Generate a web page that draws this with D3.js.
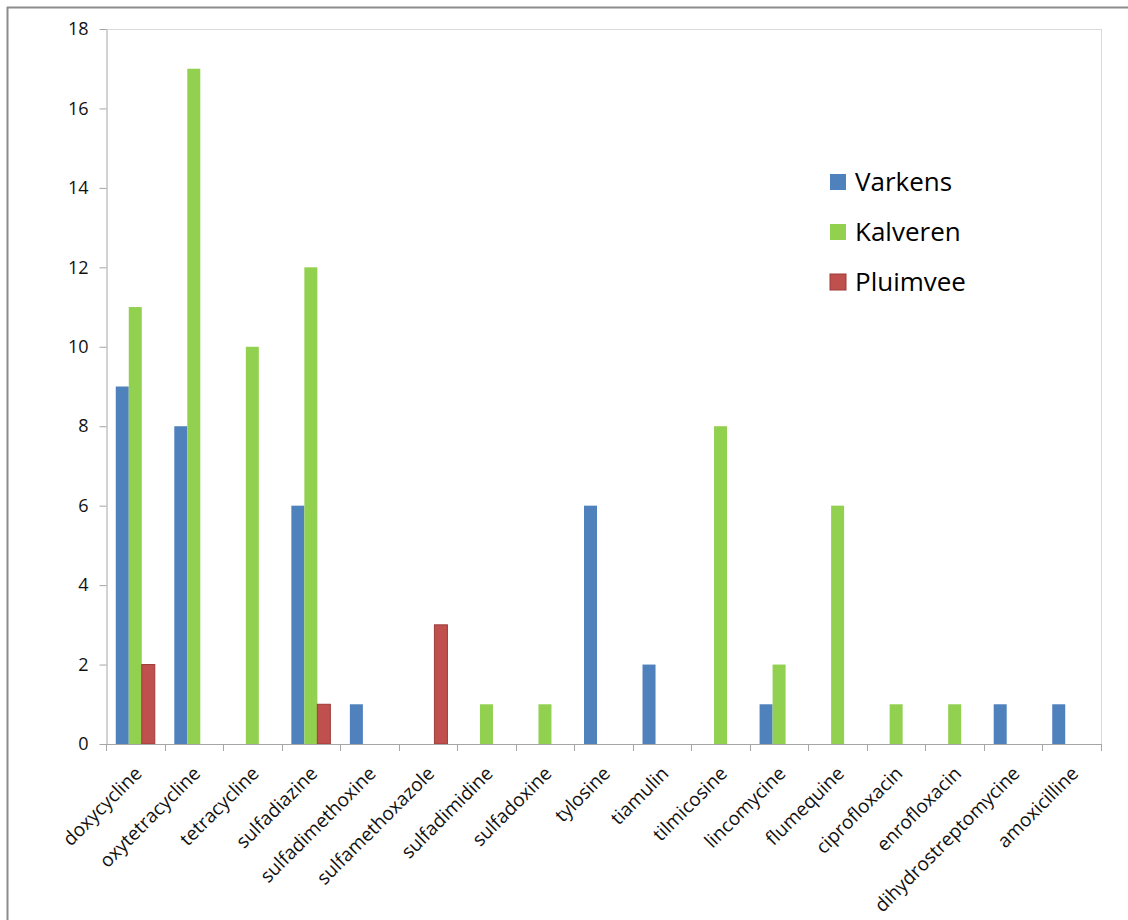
<!DOCTYPE html>
<html><head><meta charset="utf-8">
<script src="https://cdn.jsdelivr.net/npm/d3@7"></script>
<style>body{margin:0;background:#fff}svg{display:block}</style>
</head><body>
<svg id="c" width="1128" height="920"></svg>
<script>
const categories = ["doxycycline","oxytetracycline","tetracycline","sulfadiazine","sulfadimethoxine","sulfamethoxazole","sulfadimidine","sulfadoxine","tylosine","tiamulin","tilmicosine","lincomycine","flumequine","ciprofloxacin","enrofloxacin","dihydrostreptomycine","amoxicilline"];
const seriesNames = ["Varkens","Kalveren","Pluimvee"];
const varkens  = [9,8,0,6,1,0,0,0,6,2,0,1,0,0,0,1,1];
const kalveren = [11,17,10,12,0,0,1,1,0,0,8,2,6,1,1,0,0];
const pluimvee = [2,0,0,1,0,3,0,0,0,0,0,0,0,0,0,0,0];
const yTicks = [0,2,4,6,8,10,12,14,16,18];
const colors = ["#4f81bd","#92d050","#c0504d"];
const strokes = ["none","none","#9c3b39"];

const series = [varkens, kalveren, pluimvee];
const svg = d3.select("#c");
const font = "'Open Sans', sans-serif";
const L = 106, R = 1101, T = 29, B = 744;

// outer frame (top and left)
svg.append("line").attr("x1",7).attr("x2",1128).attr("y1",7.5).attr("y2",7.5).attr("stroke","#8c8c8c").attr("stroke-width",2);
svg.append("line").attr("x1",7.5).attr("x2",7.5).attr("y1",7).attr("y2",920).attr("stroke","#8c8c8c").attr("stroke-width",2);

const x = d3.scaleBand().domain(categories).range([L,R]).paddingInner(0).paddingOuter(0);
const cw = x.bandwidth();
const y = d3.scaleLinear().domain([0,18]).range([B,T]);

// plot border top/right
svg.append("line").attr("x1",L).attr("x2",R+0.5).attr("y1",T+0.5).attr("y2",T+0.5).attr("stroke","#d9d9d9");
svg.append("line").attr("x1",R+0.5).attr("x2",R+0.5).attr("y1",T).attr("y2",B).attr("stroke","#d9d9d9");

// bars (gap width 150%)
const bw = cw/(3+1.5);
series.forEach((vals,si)=>{
  svg.append("g").selectAll("rect").data(categories.map((c,i)=>({c,v:vals[i]})).filter(d=>d.v>0))
    .join("rect")
    .attr("x",d=>x(d.c)+bw*0.75+bw*si)
    .attr("width",bw)
    .attr("y",d=>y(d.v))
    .attr("height",d=>B-y(d.v))
    .attr("fill",colors[si])
    .attr("stroke",strokes[si]).attr("stroke-width",1);
});

// y axis
const ya = d3.axisLeft(y).tickValues(yTicks).tickSize(7).tickSizeOuter(0).tickPadding(11);
const gy = svg.append("g").attr("transform",`translate(${L+0.5},0)`).call(ya);
gy.select(".domain").attr("stroke","#a6a6a6");
gy.selectAll(".tick line").attr("stroke","#a6a6a6");
gy.selectAll("text").attr("font-family",font).attr("font-size",18).attr("fill","#111");

// x axis
const bounds = categories.map(c=>x(c)).concat([R]);
svg.append("line").attr("x1",L).attr("x2",R+0.5).attr("y1",B+0.5).attr("y2",B+0.5).attr("stroke","#a6a6a6");
svg.append("g").selectAll("line").data(bounds).join("line")
  .attr("x1",d=>Math.round(d)+0.5).attr("x2",d=>Math.round(d)+0.5)
  .attr("y1",B).attr("y2",B+7).attr("stroke","#a6a6a6");
svg.append("g").selectAll("text").data(categories).join("text")
  .attr("transform",d=>`translate(${x(d)+cw/2+3},${B+26}) rotate(-45)`)
  .attr("text-anchor","end").attr("dy","0.35em")
  .attr("font-family",font).attr("font-size",19).attr("fill","#111")
  .text(d=>d);

// legend
const lg = svg.append("g");
seriesNames.forEach((n,i)=>{
  const cy = 182 + i*50;
  lg.append("rect").attr("x",830).attr("y",cy-8).attr("width",16).attr("height",16)
    .attr("fill",colors[i]).attr("stroke",strokes[i]);
  lg.append("text").attr("x",855).attr("y",cy).attr("dy","0.36em")
    .attr("font-family",font).attr("font-size",26).attr("fill","#000").text(n);
});
</script>
</body></html>
